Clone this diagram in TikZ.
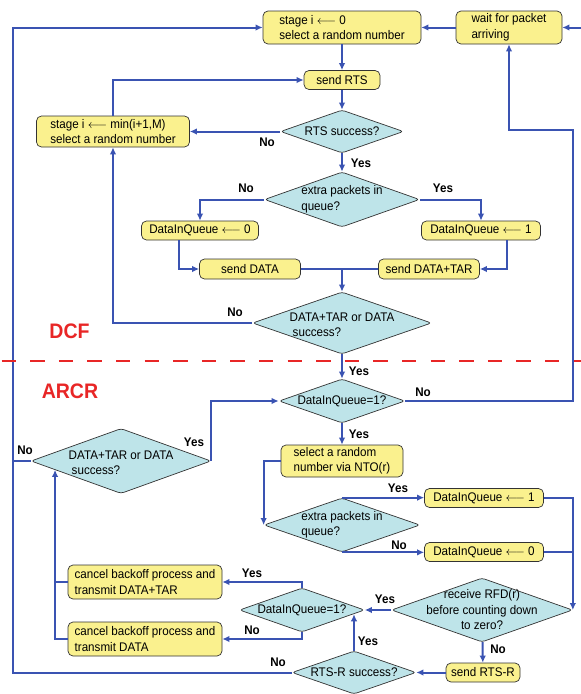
\documentclass[tikz,border=0pt]{standalone}
\usepackage{fontspec}
\setmainfont[FakeStretch=0.93]{Liberation Sans}
\usetikzlibrary{arrows.meta,shapes.geometric,calc}
\definecolor{linie}{RGB}{58,83,178}
\definecolor{gelb}{RGB}{250,241,142}
\definecolor{tuerkis}{RGB}{190,228,233}
\definecolor{rot}{RGB}{232,38,38}
\def\schrift{\fontsize{12.5}{15.5}\selectfont}

\begin{document}
\begin{tikzpicture}[x=1pt,y=-1pt,>={Latex[length=7pt,width=6.5pt]},
	kasten/.style={draw=black!80,fill=gelb,rounded corners=5pt,line width=0.7pt,
		inner sep=0pt,align=left,font=\schrift},
	raute/.style={diamond,draw=black!80,fill=tuerkis,rounded corners=3pt,line width=0.7pt,
		inner sep=0pt},
	rtext/.style={align=left,font=\schrift},
	antw/.style={font=\schrift\bfseries},
	teil/.style={font=\fontsize{21}{23}\selectfont\bfseries,text=rot},
	fluss/.style={draw=linie,line width=2pt}]

\useasboundingbox (0,0) rectangle (581,694);

% DCF
\node[kasten,minimum width=158,minimum height=33] (stageZero) at (342,27.5) {stage i $\longleftarrow$ 0\\select a random number};
\node[kasten,minimum width=106,minimum height=33] (waitPkt) at (509,27.5) {wait for packet\\arriving};
\node[kasten,minimum width=76,minimum height=19] (sendRTS) at (342,80) {send RTS};
\node[kasten,minimum width=153,minimum height=31] (stageInc) at (113,131.5) {stage i $\longleftarrow$ min(i+1,M)\\select a random number};
\node[raute,minimum width=123,minimum height=43,label={[rtext]center:RTS success?}] (rtsOK) at (342,131.5) {};
\node[raute,minimum width=155,minimum height=55,label={[rtext]center:extra packets in\\queue?}] (extraQ) at (342,199.5) {};
\node[kasten,minimum width=117,minimum height=19] (diqZero) at (200,230.5) {DataInQueue $\longleftarrow$ 0};
\node[kasten,minimum width=119,minimum height=19] (diqOne) at (481,230.5) {DataInQueue $\longleftarrow$ 1};
\node[kasten,minimum width=101,minimum height=20] (sendData) at (250,269) {send DATA};
\node[kasten,minimum width=101,minimum height=20] (sendDataTar) at (429,269) {send DATA+TAR};
\node[raute,minimum width=179,minimum height=62,label={[rtext,yshift=-2pt]center:DATA+TAR or DATA\\\hspace*{3pt}success?}] (dataOK) at (342,323) {};

% ARCR
\node[raute,minimum width=126,minimum height=44,label={[rtext]center:DataInQueue=1?}] (diqTest) at (342,401) {};
\node[kasten,minimum width=122,minimum height=32] (rndNTO) at (342,461) {select a random\\number via NTO(r)};
\node[raute,minimum width=156,minimum height=54,label={[rtext]center:extra packets in\\queue?}] (extraQR) at (342,525) {};
\node[kasten,minimum width=119,minimum height=19] (diqOneR) at (484,498) {DataInQueue $\longleftarrow$ 1};
\node[kasten,minimum width=119,minimum height=19] (diqZeroR) at (484,552) {DataInQueue $\longleftarrow$ 0};
\node[raute,minimum width=181,minimum height=64,label={[rtext,align=center]center:receive RFD(r)\\before counting down\\to zero?}] (rfdQ) at (482,610) {};
\node[raute,minimum width=125,minimum height=44,label={[rtext]center:DataInQueue=1?}] (diqTestR) at (302,610) {};
\node[kasten,minimum width=154,minimum height=34] (cancelTar) at (145,582) {cancel backoff process and\\transmit DATA+TAR};
\node[kasten,minimum width=154,minimum height=34] (cancelData) at (145,639) {cancel backoff process and\\transmit DATA\phantom{+TAR}};
\node[kasten,minimum width=74,minimum height=19] (sendRTSR) at (483,672.5) {send RTS-R};
\node[raute,minimum width=124,minimum height=43,label={[rtext]center:RTS-R success?}] (rtsrOK) at (354,672.5) {};
\node[raute,minimum width=180,minimum height=65,label={[rtext,yshift=-2pt]center:DATA+TAR or DATA\\\hspace*{3pt}success?}] (dataOKR) at (121,461) {};

% Hilfspunkte
\coordinate (inR) at (581,27.5);
\coordinate (lEdge) at (13,400);
\coordinate (rEdge) at (573,130);
\coordinate (hitR) at ($(diqTestR.east)!0.19!(diqTestR.south)$);
\coordinate (hitL) at ($(dataOKR.west)!0.27!(dataOKR.south)$);

% Verbindungen DCF
\draw[fluss,->] (inR) -- (waitPkt);
\draw[fluss,->] (waitPkt) -- (stageZero);
\draw[fluss,->] (stageZero) -- (sendRTS);
\draw[fluss,->] (sendRTS) -- (rtsOK);
\draw[fluss,->] (rtsOK) -- (stageInc);
\draw[fluss,->] (stageInc.north) |- (sendRTS.west);
\draw[fluss,->] (rtsOK) -- (extraQ);
\draw[fluss,->] (extraQ.west) -| (diqZero.north);
\draw[fluss,->] (extraQ.east) -| (diqOne.north);
\draw[fluss,->] ([xshift=-21pt]diqZero.south) |- (sendData.west);
\draw[fluss,->] ([xshift=26pt]diqOne.south) |- (sendDataTar.east);
\draw[fluss] (sendData) -- (sendDataTar);
\draw[fluss,->] (sendData.east -| dataOK.north) -- (dataOK.north);
\draw[fluss,->] (dataOK.west) -| (stageInc.south);
\draw[fluss,->] (dataOK) -- (diqTest);

% Verbindungen ARCR
\draw[fluss,->] (diqTest.east) -| (rEdge) -| (waitPkt.south);
\draw[fluss,->] (diqTest) -- (rndNTO);
\draw[fluss,->] (rndNTO.west) -| (extraQR.west);
\draw[fluss,->] (extraQR.north) -- (extraQR.north -| diqOneR.west);
\draw[fluss,->] (extraQR.south) -- (extraQR.south -| diqZeroR.west);
\draw[fluss,->] (diqOneR.east) -| (rfdQ.east);
\draw[fluss] (diqZeroR.east) -- (diqZeroR.east -| rfdQ.east);
\draw[fluss,->] (rfdQ) -- (diqTestR);
\draw[fluss,->] (rfdQ) -- (sendRTSR);
\draw[fluss,->] (sendRTSR) -- (rtsrOK);
\draw[fluss,->] (rtsrOK.north) -- (rtsrOK.north |- hitR);
\draw[fluss,->] (diqTestR.north) |- (cancelTar.east);
\draw[fluss,->] (diqTestR.south) |- (cancelData.east);
\draw[fluss] (cancelTar.west) -- (cancelTar.west -| hitL);
\draw[fluss,->] (cancelData.west) -| (hitL);
\draw[fluss,->] (dataOKR.east) |- (diqTest.west);
\draw[fluss] (dataOKR.west) -- (dataOKR.west -| lEdge);
\draw[fluss,->] (rtsrOK.west) -| (lEdge) |- (stageZero.west);

% Ja/Nein
\node[antw] (noA) at (267,142) {No};
\node[antw] (yesA) at (361,163) {Yes};
\node[antw] (noB) at (246,188) {No};
\node[antw] (yesB) at (443,188) {Yes};
\node[antw] (noC) at (235,312) {No};
\node[antw] (yesC) at (359,371) {Yes};
\node[antw] (noD) at (423,392) {No};
\node[antw] (yesD) at (359,434) {Yes};
\node[antw] (yesE) at (194,442) {Yes};
\node[antw] (noE) at (25,450) {No};
\node[antw] (yesF) at (398,488) {Yes};
\node[antw] (noF) at (399,545) {No};
\node[antw] (yesG) at (252,573) {Yes};
\node[antw] (noG) at (252,630) {No};
\node[antw] (yesH) at (385,599) {Yes};
\node[antw] (noH) at (498,649) {No};
\node[antw] (yesI) at (368,641) {Yes};
\node[antw] (noI) at (278,662) {No};

% Bereiche
\draw[rot,line width=2.6pt,dash pattern=on 14.3pt off 14.3pt,dash phase=27pt] (0,361) -- (581,361);
\node[teil] (dcf) at (69.5,331) {DCF};
\node[teil] (arcr) at (70,391) {ARCR};

\end{tikzpicture}
\end{document}
